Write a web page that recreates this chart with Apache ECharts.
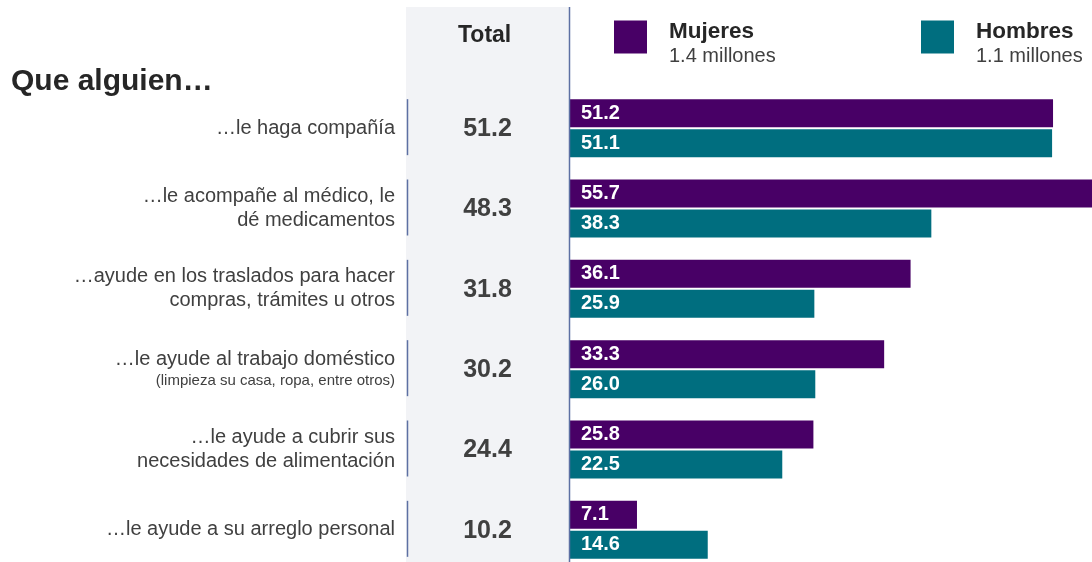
<!DOCTYPE html>
<html>
<head>
<meta charset="utf-8">
<script src="https://cdn.jsdelivr.net/npm/echarts@6/dist/echarts.min.js"></script>
<style>
  html, body { margin: 0; padding: 0; background: #fff; }
  #chart { width: 1092px; height: 562px; }
</style>
</head>
<body>
<div id="chart"></div>
<script>
// 数据
const categories = [
  '…le haga compañía',
  '…le acompañe al médico, le\ndé medicamentos',
  '…ayude en los traslados para hacer\ncompras, trámites u otros',
  '…le ayude al trabajo doméstico\n(limpieza su casa, ropa, entre otros)',
  '…le ayude a cubrir sus\nnecesidades de alimentación',
  '…le ayude a su arreglo personal'
];
const totals = [51.2, 48.3, 31.8, 30.2, 24.4, 10.2];
const mujeres = [51.2, 55.7, 36.1, 33.3, 25.8, 7.1];
const hombres = [51.1, 38.3, 25.9, 26.0, 22.5, 14.6];
const seriesNames = ['Mujeres', 'Hombres'];
const poblacion = ['1.4 millones', '1.1 millones'];

const FONT = "'Liberation Sans', Arial, sans-serif";
const PURPLE = '#480066';
const TEAL = '#006e7f';
const LINE = '#5d70a3';

const chart = echarts.init(document.getElementById('chart'));

const legendOf = (idx, left) => ({
  data: [seriesNames[idx]],
  left: left,
  top: 20,
  padding: 0,
  icon: 'rect',
  itemWidth: 33,
  itemHeight: 33,
  selectedMode: false,
  formatter: (name) => `{n|${name}}\n{m|${poblacion[idx]}}`,
  textStyle: {
    padding: [5, 0, 0, 17],
    rich: {
      n: { fontFamily: FONT, fontSize: 22.5, fontWeight: 'bold', color: '#262626', lineHeight: 34 },
      m: { fontFamily: FONT, fontSize: 20, color: '#404040', lineHeight: 16 }
    }
  }
});

const barLabel = {
  show: true, position: 'insideLeft', offset: [6, 0],
  fontFamily: FONT, fontSize: 20, fontWeight: 'bold', color: '#fff',
  formatter: (p) => p.value.toFixed(1)
};

const option = {
  animation: false,
  title: {
    text: 'Que alguien…',
    left: 6,
    top: 62,
    textStyle: { fontFamily: FONT, fontSize: 30, fontWeight: 'bold', color: '#262626' }
  },
  legend: [legendOf(0, 614), legendOf(1, 921)],
  graphic: [
    { type: 'rect', z: -10, shape: { x: 406, y: 7, width: 163, height: 555 }, style: { fill: '#f2f3f6' } },
    { type: 'line', z: 10, shape: { x1: 569.5, y1: 7, x2: 569.5, y2: 562 }, style: { stroke: LINE, lineWidth: 1.5 } },
    {
      type: 'text', left: 458, top: 24,
      style: { text: 'Total', fontFamily: FONT, fontSize: 23, fontWeight: 'bold', fill: '#262626' }
    }
  ],
  grid: [
    { left: 570, right: 0, top: 88, height: 482, outerBoundsMode: 'none' },
    { left: 406, width: 163, top: 88, height: 482, outerBoundsMode: 'none' }
  ],
  xAxis: [
    { gridIndex: 0, type: 'value', min: 0, max: 55.33, show: false },
    { gridIndex: 1, type: 'value', min: 0, max: 1, show: false }
  ],
  yAxis: [
    {
      gridIndex: 0,
      type: 'category',
      inverse: true,
      data: categories,
      axisLine: { show: false },
      axisTick: { show: false },
      axisLabel: {
        margin: 175,
        align: 'right',
        formatter: (v) => v.split('\n').map((l) => (l.startsWith('(') ? `{s|${l}}` : `{a|${l}}`)).join('\n'),
        rich: {
          a: { fontFamily: FONT, fontSize: 20, color: '#404040', lineHeight: 24, align: 'right' },
          s: { fontFamily: FONT, fontSize: 15, color: '#404040', lineHeight: 20, align: 'right' }
        }
      }
    },
    { gridIndex: 1, type: 'category', inverse: true, data: categories, show: false }
  ],
  series: [
    {
      name: seriesNames[0],
      type: 'bar',
      data: mujeres,
      barWidth: 28,
      barGap: '7%',
      itemStyle: { color: PURPLE },
      label: barLabel
    },
    {
      name: seriesNames[1],
      type: 'bar',
      data: hombres,
      barWidth: 28,
      barGap: '7%',
      itemStyle: { color: TEAL },
      label: barLabel
    },
    {
      // 总计列
      type: 'custom',
      xAxisIndex: 1,
      yAxisIndex: 1,
      data: totals.map((v, i) => [0.5, i, v]),
      renderItem: (params, api) => {
        const c = api.coord([api.value(0), api.value(1)]);
        const l = api.coord([0, api.value(1)]);
        return {
          type: 'group',
          children: [
            { type: 'line', shape: { x1: l[0] + 1.5, y1: c[1] - 29, x2: l[0] + 1.5, y2: c[1] + 27 }, style: { stroke: LINE, lineWidth: 1.5 } },
            {
              type: 'text', x: c[0], y: c[1] + 1,
              style: {
                text: api.value(2).toFixed(1), align: 'center', verticalAlign: 'middle',
                fontFamily: FONT, fontSize: 25, fontWeight: 'bold', fill: '#404040'
              }
            }
          ]
        };
      }
    }
  ]
};

chart.setOption(option);
</script>
</body>
</html>
